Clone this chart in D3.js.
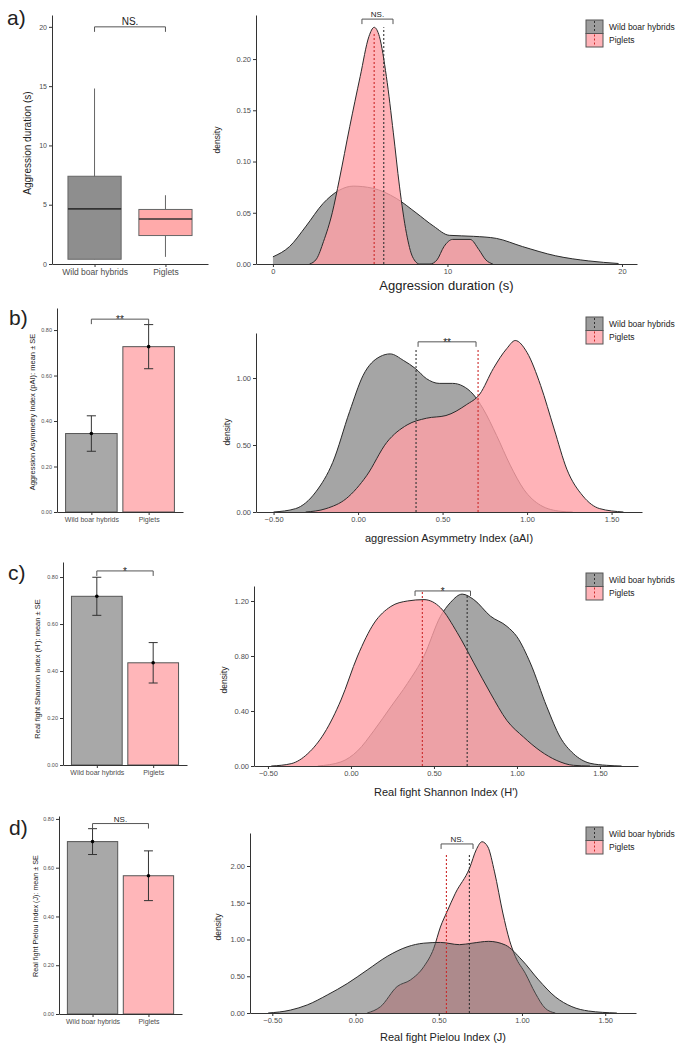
<!DOCTYPE html>
<html>
<head>
<meta charset="utf-8">
<script src="https://cdn.jsdelivr.net/npm/d3@7"></script>
<style>
  body { margin: 0; background: #fff; }
  svg { display: block; font-family: "Liberation Sans", Arial, sans-serif; }
</style>
</head>
<body>
<svg id="fig" width="692" height="1056"></svg>
<script>
// ---- data ----
const groups = ["Wild boar hybrids", "Piglets"];

// a) aggression duration, boxplot stats [min, q1, median, q3, max]
const durBoxWild = [0.4, 0.4, 4.65, 7.4, 14.8];
const durBoxPiglets = [0.6, 2.4, 3.8, 4.6, 5.8];

// b-d) mean ± SE per group (wild, piglets)
const aaiMean = [0.345, 0.727];
const aaiSE = [0.078, 0.097];
const shannonMean = [0.718, 0.435];
const shannonSE = [0.081, 0.086];
const pielouMean = [0.707, 0.567];
const pielouSE = [0.053, 0.102];

// density curves [x, density]
const durDensWild = [[0,0.007],[0.95,0.017],[1.9,0.037],[2.87,0.059],[3.8,0.072],[4.6,0.076],[5.7,0.074],[7.07,0.064],[8.2,0.05],[9.2,0.037],[10.1,0.028],[11.5,0.027],[12.8,0.025],[14.3,0.017],[16.2,0.008],[18.1,0.003],[19.8,0.0005]];
const durDensPiglets = [[2.1,0],[2.5,0.005],[2.9,0.022],[3.4,0.05],[3.8,0.082],[4.4,0.134],[5.0,0.183],[5.5,0.222],[5.8,0.231],[6.1,0.222],[6.5,0.183],[6.9,0.128],[7.25,0.076],[7.65,0.03],[8.0,0.007],[8.4,0],[9.0,0],[9.4,0.004],[9.8,0.017],[10.3,0.024],[11.3,0.024],[11.8,0.014],[12.2,0.004],[12.6,0]];

const aaiDensWild = [[-0.5,0],[-0.37,0.025],[-0.25,0.15],[-0.15,0.37],[-0.05,0.75],[0.03,1.02],[0.13,1.16],[0.19,1.18],[0.27,1.13],[0.34,1.07],[0.405,0.995],[0.48,0.96],[0.56,0.96],[0.62,0.94],[0.68,0.88],[0.74,0.77],[0.82,0.57],[0.9,0.35],[0.98,0.17],[1.08,0.05],[1.2,0.005],[1.27,0]];
const aaiDensPiglets = [[-0.31,0],[-0.19,0.025],[-0.07,0.1],[0.05,0.27],[0.17,0.52],[0.29,0.65],[0.405,0.70],[0.52,0.72],[0.64,0.80],[0.72,0.88],[0.8,1.07],[0.88,1.22],[0.93,1.28],[1.0,1.19],[1.08,0.945],[1.16,0.62],[1.235,0.32],[1.33,0.12],[1.43,0.025],[1.57,0]];

const shannonDensWild = [[-0.2,0],[-0.06,0.03],[0.04,0.11],[0.14,0.26],[0.24,0.43],[0.34,0.60],[0.44,0.80],[0.54,1.09],[0.6,1.19],[0.67,1.25],[0.74,1.21],[0.84,1.09],[0.94,1.015],[1.0,0.94],[1.08,0.75],[1.18,0.43],[1.26,0.21],[1.34,0.09],[1.44,0.02],[1.54,0.005],[1.63,0]];
const shannonDensPiglets = [[-0.48,0],[-0.36,0.017],[-0.26,0.09],[-0.16,0.24],[-0.06,0.48],[0.04,0.80],[0.14,1.04],[0.24,1.16],[0.34,1.20],[0.44,1.21],[0.54,1.15],[0.64,0.97],[0.74,0.75],[0.84,0.53],[0.94,0.33],[1.04,0.21],[1.14,0.11],[1.24,0.04],[1.34,0.005],[1.44,0]];

const pielouDensWild = [[-0.525,0],[-0.39,0.04],[-0.29,0.11],[-0.17,0.245],[-0.05,0.40],[0.07,0.585],[0.19,0.77],[0.31,0.90],[0.41,0.95],[0.51,0.96],[0.625,0.93],[0.70,0.95],[0.80,0.975],[0.90,0.925],[1.0,0.72],[1.10,0.45],[1.20,0.22],[1.30,0.086],[1.40,0.027],[1.57,0]];
const pielouDensPiglets = [[0.07,0],[0.15,0.086],[0.25,0.36],[0.33,0.45],[0.41,0.63],[0.47,0.88],[0.51,1.17],[0.55,1.38],[0.6,1.63],[0.685,1.97],[0.725,2.22],[0.76,2.33],[0.795,2.26],[0.835,1.92],[0.885,1.36],[0.925,0.99],[0.96,0.77],[1.02,0.54],[1.08,0.27],[1.14,0.064],[1.2,0]];

// group means drawn as dashed lines (wild, piglets) and their tops
const durDensMeans = [6.35, 5.8];
const aaiDensMeans = [0.343, 0.71];
const shannonDensMeans = [0.70, 0.43];
const pielouDensMeans = [0.684, 0.546];

// significance labels and bracket extents
const sigLabels = ["NS.", "**", "*", "NS."];
const leftSigY = [20, 0.848, 0.826, 0.781];
const rightBrackets = [[5.1, 6.88, 0.239], [0.355, 0.698, 1.27], [0.386, 0.72, 1.273], [0.514, 0.706, 2.30]];

const colWildBox = "#8e8e8e", colPigBox = "#ffaaaa";
const colWildBar = "#a8a8a8", colPigBar = "#ffb6b9";
const colWildDens = "#5b5b5b", colPigDens = "#ffa0a6";
const colWildDash = "#333333", colPigDash = "#cc2a2a";

const svg = d3.select("#fig");
const fmt2 = d3.format(".2f");

function styleAxis(g, fs) {
  g.attr("font-family", null).attr("font-size", fs);
  g.select(".domain").attr("stroke", "#333").attr("stroke-width", 1);
  g.selectAll(".tick line").attr("stroke", "#333");
  g.selectAll(".tick text").attr("fill", "#4d4d4d");
}

function bracket(x1, x2, y, tip, label, fs, baseOff) {
  svg.append("path")
    .attr("d", `M${x1},${y + tip}V${y}H${x2}V${y + tip}`)
    .attr("fill", "none").attr("stroke", "#555").attr("stroke-width", 1);
  svg.append("text").attr("x", (x1 + x2) / 2).attr("y", y + baseOff)
    .attr("text-anchor", "middle").attr("font-size", fs).attr("fill", "#222").text(label);
}

// ---- left panels ----
function leftPanel(L) {
  const x = d3.scalePoint().domain(groups).range([L.x0, L.x1]).padding(0.6);
  const y = d3.scaleLinear().domain([0, L.yMax]).range([L.yZero, L.yTop]);
  const step = x.step();

  if (L.box) {
    const w = step * 0.75;
    L.box.forEach((b, i) => {
      const cx = x(groups[i]);
      svg.append("line").attr("x1", cx).attr("x2", cx).attr("y1", y(b[0])).attr("y2", y(b[4]))
        .attr("stroke", "#666").attr("stroke-width", 1);
      svg.append("rect").attr("x", cx - w / 2).attr("width", w)
        .attr("y", y(b[3])).attr("height", y(b[1]) - y(b[3]))
        .attr("fill", i === 0 ? colWildBox : colPigBox).attr("stroke", "#666").attr("stroke-width", 1);
      svg.append("line").attr("x1", cx - w / 2).attr("x2", cx + w / 2).attr("y1", y(b[2])).attr("y2", y(b[2]))
        .attr("stroke", "#333").attr("stroke-width", 1.6);
    });
  } else {
    const w = step * 0.9, cap = step * 0.08;
    L.mean.forEach((m, i) => {
      const cx = x(groups[i]);
      svg.append("rect").attr("x", cx - w / 2).attr("width", w)
        .attr("y", y(m)).attr("height", y(0) - y(m))
        .attr("fill", i === 0 ? colWildBar : colPigBar).attr("stroke", "#555").attr("stroke-width", 1);
      const lo = y(m - L.se[i]), hi = y(m + L.se[i]);
      svg.append("path").attr("d", `M${cx - cap},${hi}H${cx + cap}M${cx},${hi}V${lo}M${cx - cap},${lo}H${cx + cap}`)
        .attr("fill", "none").attr("stroke", "#333").attr("stroke-width", 1);
      svg.append("circle").attr("cx", cx).attr("cy", y(m)).attr("r", 1.8).attr("fill", "#000");
    });
  }

  svg.append("g").attr("transform", `translate(0,${L.yZero})`)
    .call(d3.axisBottom(x).tickSize(3).tickSizeOuter(0).tickPadding(2))
    .call(g => styleAxis(g, L.catFs));
  svg.append("g").attr("transform", `translate(${L.x0},0)`)
    .call(d3.axisLeft(y).tickValues(L.ticks).tickFormat(L.fmt).tickSize(3).tickSizeOuter(0).tickPadding(2))
    .call(g => styleAxis(g, L.tickFs));

  svg.append("text").attr("transform", `translate(${L.titleX},${L.titleY}) rotate(-90)`)
    .attr("text-anchor", "middle").attr("dy", "0.35em").attr("font-size", L.titleFs).attr("fill", "#222")
    .text(L.title);
  svg.append("text").attr("x", L.letterX).attr("y", L.letterY).attr("font-size", 21).attr("fill", "#222").text(L.letter);

  bracket(x(groups[0]), x(groups[1]), y(L.sigY), 5, L.sig, L.sigFs, L.sigOff);
}

// ---- right panels ----
function rightPanel(R) {
  const x = d3.scaleLinear().domain(R.xDomain).range([R.x0, R.x1]);
  const y = d3.scaleLinear().domain([0, R.yMax]).range([R.yZero, R.yTop]);
  const area = d3.area().x(d => x(d[0])).y0(y(0)).y1(d => y(d[1])).curve(d3.curveMonotoneX);
  const line = d3.line().x(d => x(d[0])).y(d => y(d[1])).curve(d3.curveMonotoneX);

  const layers = [
    { pts: R.wild, fill: colWildDens, op: R.grayTop ? 0.5 : 0.55 },
    { pts: R.pig, fill: colPigDens, op: R.grayTop ? 0.75 : 0.8 }
  ];
  if (R.grayTop) layers.reverse();
  layers.forEach(l => {
    svg.append("path").attr("d", area(l.pts)).attr("fill", l.fill).attr("fill-opacity", l.op);
    svg.append("path").attr("d", line(l.pts)).attr("fill", "none").attr("stroke", "#2a2a2a").attr("stroke-width", 1);
  });

  R.means.forEach((m, i) => {
    svg.append("line").attr("x1", x(m)).attr("x2", x(m)).attr("y1", y(0)).attr("y2", y(R.dashTop[i]))
      .attr("stroke", i === 0 ? colWildDash : colPigDash).attr("stroke-width", 1.1).attr("stroke-dasharray", "2,2");
  });

  svg.append("g").attr("transform", `translate(0,${R.yZero})`)
    .call(d3.axisBottom(x).tickValues(R.xTicks).tickFormat(R.xFmt).tickSize(3).tickSizeOuter(0).tickPadding(2))
    .call(g => styleAxis(g, R.tickFs));
  svg.append("g").attr("transform", `translate(${R.x0},0)`)
    .call(d3.axisLeft(y).tickValues(R.yTicks).tickFormat(fmt2).tickSize(3).tickSizeOuter(0).tickPadding(2))
    .call(g => styleAxis(g, R.tickFs));

  svg.append("text").attr("x", (R.x0 + R.x1) / 2).attr("y", R.titleY)
    .attr("text-anchor", "middle").attr("font-size", R.titleFs).attr("fill", "#222").text(R.title);
  svg.append("text").attr("transform", `translate(${R.densX},${R.densY}) rotate(-90)`)
    .attr("text-anchor", "middle").attr("dy", "0.35em").attr("font-size", 8.5).attr("fill", "#222").text("density");

  const b = R.bracket;
  bracket(x(b[0]), x(b[1]), y(b[2]), 5, R.sig, R.sigFs, R.sigOff);

  // legend
  const lg = svg.append("g").attr("transform", `translate(586,${R.legY})`);
  const kh = 13.5;
  [colWildDens, colPigDens].forEach((c, i) => {
    lg.append("rect").attr("x", 0).attr("y", i * kh).attr("width", 17).attr("height", kh)
      .attr("fill", c).attr("fill-opacity", i === 0 ? 0.6 : 0.8).attr("stroke", "#555").attr("stroke-width", 1);
    lg.append("line").attr("x1", 8.5).attr("x2", 8.5).attr("y1", i * kh + 1).attr("y2", i * kh + kh - 1)
      .attr("stroke", i === 0 ? colWildDash : colPigDash).attr("stroke-dasharray", "2,2");
    lg.append("text").attr("x", 23).attr("y", i * kh + kh / 2).attr("dy", "0.35em")
      .attr("font-size", 8.5).attr("fill", "#222").text(groups[i]);
  });
}

const idxTicks = [0, 0.2, 0.4, 0.6, 0.8];
const xIdxTicks = [-0.5, 0, 0.5, 1, 1.5];

// a)
leftPanel({ box: [durBoxWild, durBoxPiglets], x0: 52, x1: 208, yZero: 264, yTop: 15, yMax: 21,
  ticks: [0, 5, 10, 15, 20], fmt: d3.format("d"), tickFs: 7, catFs: 8.5,
  title: "Aggression duration (s)", titleX: 27, titleY: 143, titleFs: 10,
  letter: "a)", letterX: 7, letterY: 25, sig: sigLabels[0], sigY: leftSigY[0], sigFs: 10, sigOff: -2 });
rightPanel({ wild: durDensWild, pig: durDensPiglets, x0: 256, x1: 637, xDomain: [-0.97, 20.86],
  yZero: 264, yTop: 15, yMax: 0.243, xTicks: [0, 10, 20], xFmt: d3.format("d"), yTicks: [0, 0.05, 0.1, 0.15, 0.2],
  tickFs: 7.5, means: durDensMeans, dashTop: [0.231, 0.226], title: "Aggression duration (s)", titleY: 290, titleFs: 13,
  densX: 217, densY: 140, bracket: rightBrackets[0], sig: sigLabels[0], sigFs: 8, sigOff: -2, legY: 20, grayTop: false });

// b)
leftPanel({ mean: aaiMean, se: aaiSE, x0: 57, x1: 183, yZero: 512, yTop: 308, yMax: 0.897,
  ticks: idxTicks, fmt: fmt2, tickFs: 5.5, catFs: 7,
  title: "Aggression Asymmetry Index (pAI): mean ± SE", titleX: 32, titleY: 412, titleFs: 7.5,
  letter: "b)", letterX: 9, letterY: 325, sig: sigLabels[1], sigY: leftSigY[1], sigFs: 10, sigOff: 4 });
rightPanel({ wild: aaiDensWild, pig: aaiDensPiglets, x0: 256, x1: 642, xDomain: [-0.604, 1.68],
  yZero: 512, yTop: 333, yMax: 1.336, xTicks: xIdxTicks, xFmt: fmt2, yTicks: [0, 0.5, 1],
  tickFs: 7.5, means: aaiDensMeans, dashTop: [1.22, 1.22], title: "aggression Asymmetry Index (aAI)", titleY: 542, titleFs: 11,
  densX: 227, densY: 432, bracket: rightBrackets[1], sig: sigLabels[1], sigFs: 10, sigOff: 4, legY: 317, grayTop: false });

// c)
leftPanel({ mean: shannonMean, se: shannonSE, x0: 63, x1: 187, yZero: 765, yTop: 562, yMax: 0.864,
  ticks: idxTicks, fmt: fmt2, tickFs: 5.5, catFs: 7,
  title: "Real fight Shannon Index (H'): mean ± SE", titleX: 37, titleY: 669, titleFs: 7.5,
  letter: "c)", letterX: 8, letterY: 580, sig: sigLabels[2], sigY: leftSigY[2], sigFs: 10, sigOff: 4 });
rightPanel({ wild: shannonDensWild, pig: shannonDensPiglets, x0: 254, x1: 638, xDomain: [-0.584, 1.729],
  yZero: 766, yTop: 586, yMax: 1.309, xTicks: xIdxTicks, xFmt: fmt2, yTicks: [0, 0.4, 0.8, 1.2],
  tickFs: 7.5, means: shannonDensMeans, dashTop: [1.25, 1.265], title: "Real fight Shannon Index (H')", titleY: 796, titleFs: 11,
  densX: 224, densY: 680, bracket: rightBrackets[2], sig: sigLabels[2], sigFs: 10, sigOff: 4, legY: 573, grayTop: false });

// d)
leftPanel({ mean: pielouMean, se: pielouSE, x0: 59, x1: 182, yZero: 1014, yTop: 816, yMax: 0.812,
  ticks: idxTicks, fmt: fmt2, tickFs: 5.5, catFs: 7,
  title: "Real fight Pielou Index (J): mean ± SE", titleX: 35, titleY: 916, titleFs: 7.2,
  letter: "d)", letterX: 9, letterY: 835, sig: sigLabels[3], sigY: leftSigY[3], sigFs: 8, sigOff: -1.5 });
rightPanel({ wild: pielouDensWild, pig: pielouDensPiglets, x0: 250, x1: 636, xDomain: [-0.634, 1.685],
  yZero: 1013, yTop: 833, yMax: 2.449, xTicks: xIdxTicks, xFmt: fmt2, yTicks: [0, 0.5, 1, 1.5, 2],
  tickFs: 7.5, means: pielouDensMeans, dashTop: [2.16, 2.16], title: "Real fight Pielou Index (J)", titleY: 1041, titleFs: 11,
  densX: 218, densY: 927, bracket: rightBrackets[3], sig: sigLabels[3], sigFs: 8, sigOff: -2, legY: 827, grayTop: true });
</script>
</body>
</html>
